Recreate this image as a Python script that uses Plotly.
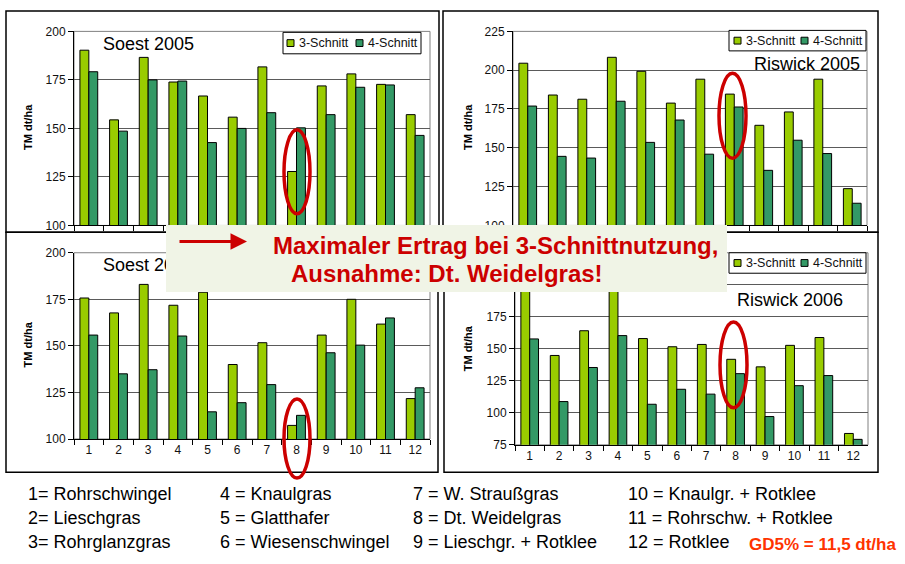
import plotly.graph_objects as go

# ---------------- data ----------------
categories = ["1", "2", "3", "4", "5", "6", "7", "8", "9", "10", "11", "12"]
series_names = ["3-Schnitt", "4-Schnitt"]

soest2005_3s = [190.3, 154.4, 186.6, 173.9, 166.7, 155.8, 181.7, 127.8, 171.9, 178.1, 172.7, 157.1]
soest2005_4s = [179.2, 148.6, 175.0, 174.4, 142.7, 150.0, 158.1, 150.3, 157.1, 171.2, 172.4, 146.4]

riswick2005_3s = [204.5, 184.0, 181.3, 208.3, 199.3, 178.8, 194.2, 184.6, 164.5, 173.1, 194.2, 123.7]
riswick2005_4s = [176.9, 144.5, 143.4, 180.0, 153.5, 167.9, 145.9, 176.3, 135.5, 154.9, 146.3, 114.3]

soest2006_3s = [175.7, 167.7, 183.0, 171.8, 178.8, 140.0, 151.7, 107.3, 155.8, 175.0, 161.7, 121.7]
soest2006_4s = [155.8, 135.0, 137.2, 155.3, 114.6, 119.5, 129.2, 112.7, 146.3, 150.4, 165.0, 127.5]

riswick2006_3s = [199.0, 144.8, 164.1, 204.0, 158.0, 151.6, 153.4, 141.8, 135.9, 152.7, 158.8, 83.9]
riswick2006_4s = [157.7, 108.8, 135.4, 160.3, 106.7, 118.4, 114.6, 130.6, 97.1, 121.2, 129.1, 79.3]

panel_titles = ["Soest 2005", "Riswick 2005", "Soest 2006", "Riswick 2006"]
y_title = "TM dt/ha"
y_ranges = [(100, 200), (100, 225), (100, 200), (75, 225)]
# y tick labels (labels hidden under the note box are left blank)
y_tick_values = [
    [100, 125, 150, 175, 200],
    [100, 125, 150, 175, 200, 225],
    [100, 125, 150, 175, 200],
    [75, 100, 125, 150, 175, 200, 225],
]
y_tick_labels = [
    ["100", "125", "150", "175", "200"],
    ["100", "125", "150", "175", "200", "225"],
    ["100", "125", "150", "175", "200"],
    ["75", "100", "125", "150", "175", "", ""],
]

key_texts = [
    ["1= Rohrschwingel", "2= Lieschgras", "3= Rohrglanzgras"],
    ["4 = Knaulgras", "5 = Glatthafer", "6 = Wiesenschwingel"],
    ["7 = W. Straußgras", "8 = Dt. Weidelgras", "9 = Lieschgr. + Rotklee"],
    ["10 = Knaulgr. + Rotklee", "11 = Rohrschw. + Rotklee", "12 = Rotklee"],
]
gd_text = "GD5% = 11,5 dt/ha"
note_line1 = "Maximaler Ertrag bei 3-Schnittnutzung,"
note_line2 = "Ausnahme: Dt. Weidelgras!"

# ---------------- layout helpers ----------------
W, H = 905, 564
def px(x):
    return x / W
def py(y):
    return 1 - y / H

FONT = "Liberation Sans, Arial, sans-serif"
C3 = "#99CC00"
C4 = "#339966"
RED = "#CC0000"

fig = go.Figure()

panels = [
    (soest2005_3s, soest2005_4s, "x", "y"),
    (riswick2005_3s, riswick2005_4s, "x2", "y2"),
    (soest2006_3s, soest2006_4s, "x3", "y3"),
    (riswick2006_3s, riswick2006_4s, "x4", "y4"),
]
for s3, s4, xa, ya in panels:
    fig.add_trace(go.Bar(x=categories, y=s3, name=series_names[0], xaxis=xa, yaxis=ya,
                         marker=dict(color=C3, line=dict(color="black", width=1)),
                         showlegend=False))
    fig.add_trace(go.Bar(x=categories, y=s4, name=series_names[1], xaxis=xa, yaxis=ya,
                         marker=dict(color=C4, line=dict(color="black", width=1)),
                         showlegend=False))

# plot-area pixel boxes (x0, x1, ytop, ybottom)
plot_boxes = [(74, 430, 25, 224), (513, 867, 25, 224), (74, 430, 252, 443), (515, 868, 252, 449)]
show_xlabels = [False, False, True, True]

layout = dict(
    width=W, height=H, margin=dict(l=0, r=0, t=0, b=0),
    paper_bgcolor="white", plot_bgcolor="rgba(0,0,0,0)",
    barmode="group", bargap=0.4, bargroupgap=0,
    font=dict(family=FONT, color="black"),
    showlegend=False,
)
for i, ((x0, x1, yt, yb), (r0, r1)) in enumerate(zip(plot_boxes, y_ranges)):
    sfx = "" if i == 0 else str(i + 1)
    layout["xaxis" + sfx] = dict(
        domain=[px(x0), px(x1)], anchor="y" + sfx, type="category",
        showline=True, linecolor="black", linewidth=1,
        ticks="outside", ticklen=5, tickcolor="black", tickson="boundaries",
        showgrid=False, showticklabels=show_xlabels[i],
        tickfont=dict(size=12, color="#111"), fixedrange=True,
    )
    layout["yaxis" + sfx] = dict(
        domain=[py(yb), py(yt)], anchor="x" + sfx, range=[r0, r1],
        tickmode="array", tickvals=y_tick_values[i], ticktext=y_tick_labels[i],
        showline=True, linecolor="black", linewidth=1,
        ticks="outside", ticklen=5, tickcolor="black",
        showgrid=True, gridcolor="#5a5a5a", gridwidth=1, zeroline=False,
        tickfont=dict(size=12, color="#111"), fixedrange=True,
    )
fig.update_layout(**layout)

shapes = []
# panel borders (white boxes)
for (x0, x1, y0, y1) in [(6, 439, 4, 231), (443, 878, 4, 231), (6, 438, 231, 477), (444, 878, 231, 477)]:
    shapes.append(dict(type="rect", xref="paper", yref="paper", layer="below",
                       x0=px(x0), x1=px(x1), y0=py(y1), y1=py(y0),
                       line=dict(color="black", width=1.5), fillcolor="white"))
# plot area frames (gray)
for (x0, x1, yt, yb) in plot_boxes:
    shapes.append(dict(type="rect", xref="paper", yref="paper", layer="below",
                       x0=px(x0), x1=px(x1), y0=py(yb), y1=py(yt),
                       line=dict(color="#808080", width=1), fillcolor="rgba(0,0,0,0)"))

# legends (panels 1, 2, 4; panel 3 legend is hidden under the note box)
legend_boxes = [(283, 421, 26, 48, 287, 356), (729, 866, 24, 45, 734, 801), (729, 866, 252, 273, 734, 801)]
annotations = []
for (bx0, bx1, by0, by1, s1, s2) in legend_boxes:
    shapes.append(dict(type="rect", xref="paper", yref="paper", layer="above",
                       x0=px(bx0), x1=px(bx1), y0=py(by1), y1=py(by0),
                       line=dict(color="black", width=1), fillcolor="white"))
    cy = (by0 + by1) / 2
    for sx, col, name in [(s1, C3, series_names[0]), (s2, C4, series_names[1])]:
        shapes.append(dict(type="rect", xref="paper", yref="paper", layer="above",
                           x0=px(sx), x1=px(sx + 7), y0=py(cy + 3.5), y1=py(cy - 3.5),
                           line=dict(color="black", width=1), fillcolor=col))
        annotations.append(dict(text=name, xref="paper", yref="paper", x=px(sx + 10), y=py(cy),
                                xanchor="left", yanchor="middle", showarrow=False,
                                font=dict(size=12.5, family=FONT, color="#111")))

# red ellipses
for (x0, x1, y0, y1) in [(284, 310, 126, 212), (719, 746, 68, 155), (284, 310, 402, 483), (720, 747, 323, 411)]:
    shapes.append(dict(type="circle", xref="paper", yref="paper", layer="above",
                       x0=px(x0), x1=px(x1), y0=py(y1), y1=py(y0),
                       line=dict(color=RED, width=3.5)))

# y-axis titles
for (xx, yy) in [(28, 123), (468, 123), (28, 346), (468, 350)]:
    annotations.append(dict(text=y_title, xref="paper", yref="paper", x=px(xx), y=py(yy),
                            xanchor="center", yanchor="middle", textangle=-90, showarrow=False,
                            font=dict(size=11, family=FONT, color="black", weight="bold")))

# panel titles
for title, (xx, yy) in zip(panel_titles, [(101, 38), (752, 58), (101, 265), (735, 300)]):
    annotations.append(dict(text=title, xref="paper", yref="paper", x=px(xx), y=py(yy),
                            xanchor="left", yanchor="middle", showarrow=False,
                            font=dict(size=18, family=FONT, color="black")))

# note box overlay
annotations.append(dict(text=" ", xref="paper", yref="paper", x=px(166), y=py(224),
                        xanchor="left", yanchor="top", showarrow=False,
                        width=561, height=67, bgcolor="#F0F4E6", borderpad=0, borderwidth=0))
annotations.append(dict(text="", xref="paper", yref="paper", x=px(247), y=py(240.5),
                        ax=-69, ay=0, showarrow=True, arrowhead=2, arrowsize=1.1,
                        arrowwidth=3, arrowcolor=RED, standoff=0, startstandoff=0))
annotations.append(dict(text=note_line1, xref="paper", yref="paper", x=px(271), y=py(245),
                        xanchor="left", yanchor="middle", showarrow=False,
                        font=dict(size=24, family=FONT, color=RED, weight="bold")))
annotations.append(dict(text=note_line2, xref="paper", yref="paper", x=px(289), y=py(273),
                        xanchor="left", yanchor="middle", showarrow=False,
                        font=dict(size=24, family=FONT, color=RED, weight="bold")))

# key below charts
col_x = [26, 218, 411, 626]
row_y = [499.5, 524, 548.5]
for cx, col in zip(col_x, key_texts):
    for ry, t in zip(row_y, col):
        annotations.append(dict(text=t, xref="paper", yref="paper", x=px(cx), y=py(ry),
                                xanchor="left", yanchor="middle", showarrow=False,
                                font=dict(size=18, family=FONT, color="black")))
annotations.append(dict(text=gd_text, xref="paper", yref="paper", x=px(747), y=py(551),
                        xanchor="left", yanchor="middle", showarrow=False,
                        font=dict(size=17, family=FONT, color="#FF3300", weight="bold")))

fig.update_layout(shapes=shapes, annotations=annotations)
fig.write_html("out.html", config={"displayModeBar": False},
               post_script="document.body.style.margin='0';document.body.style.overflow='hidden';")
